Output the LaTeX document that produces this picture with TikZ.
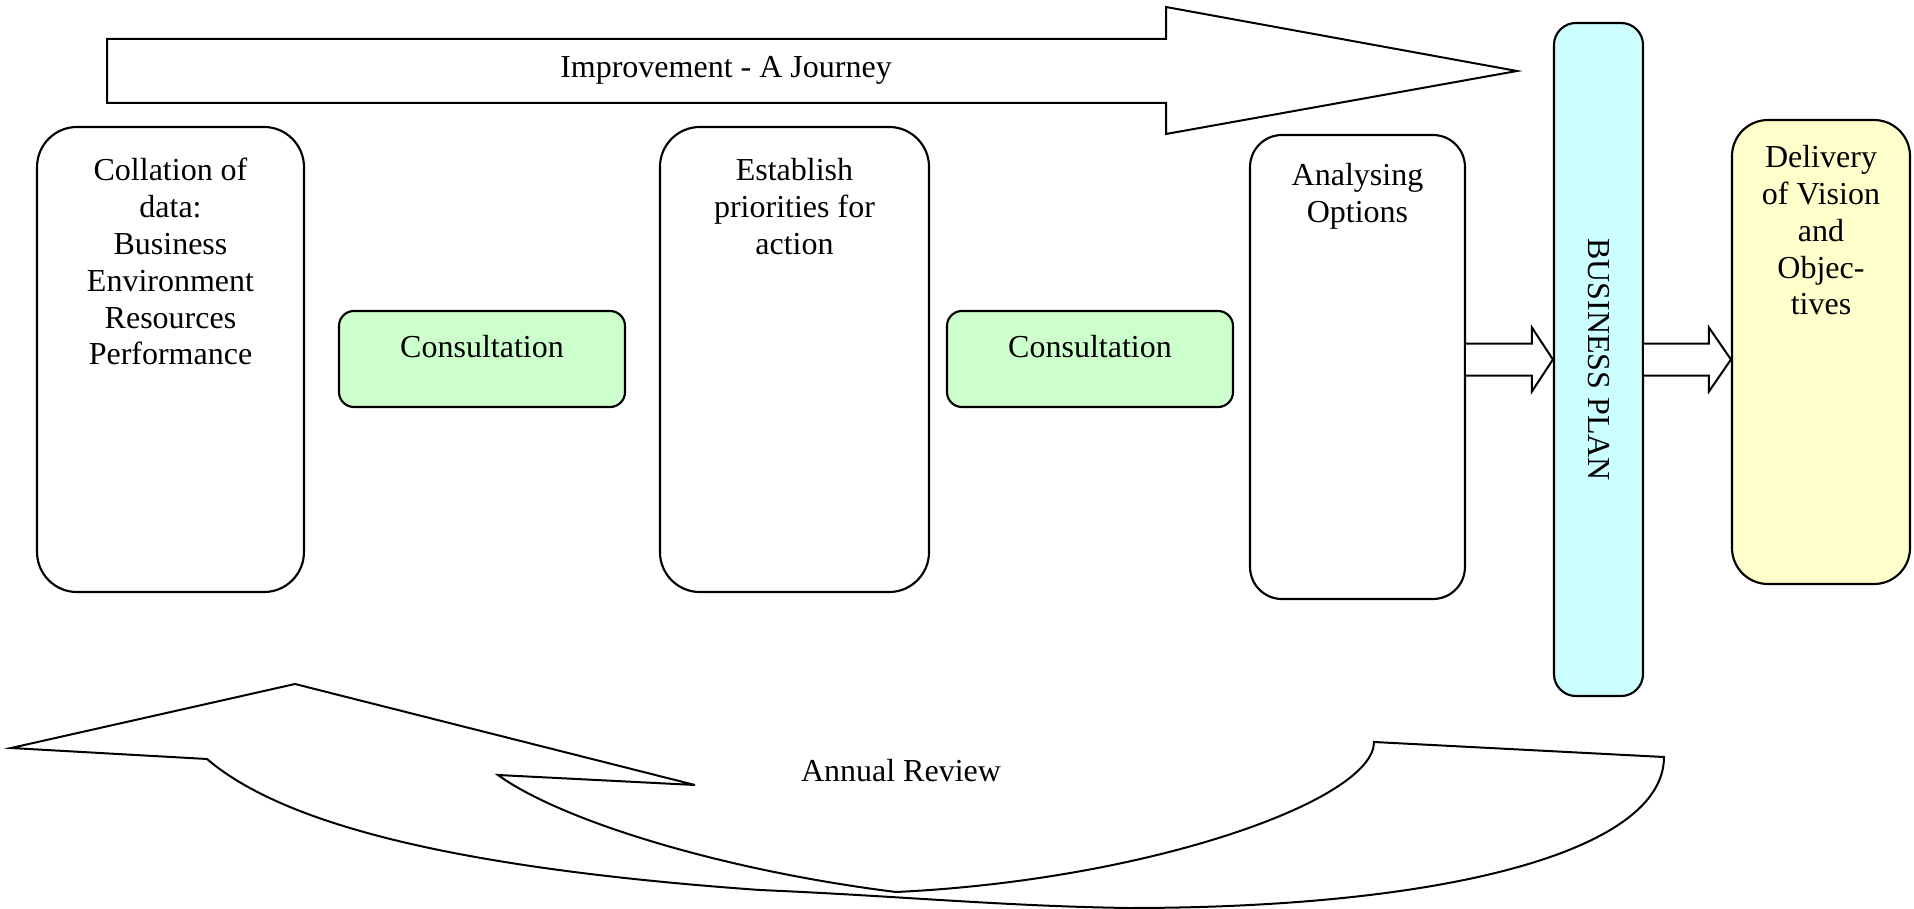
\documentclass[tikz,border=0pt]{standalone}
\usepackage{fontspec}
\setmainfont{Liberation Serif}
\usetikzlibrary{calc}

\definecolor{consultgreen}{HTML}{CCFFCC}
\definecolor{planblue}{HTML}{CCFFFF}
\definecolor{deliveryyellow}{HTML}{FFFFCC}

\begin{document}
\begin{tikzpicture}[
        x=0.375pt, y=-0.375pt,
        every node/.style={font=\fontsize{12}{13.8}\selectfont},
        stage/.style={draw, line width=0.8pt, rounded corners=15pt, minimum height=174.4pt, inner sep=0pt},
        consult/.style={draw, line width=0.8pt, rounded corners=5.6pt, fill=consultgreen, minimum width=107.25pt, minimum height=36pt, inner sep=0pt},
        txt/.style={align=center, anchor=north, inner sep=0pt},
        outline/.style={draw, line width=0.75pt, line join=miter},
        blockarr/.style={draw, line width=0.75pt, fill=white}
    ]

    \useasboundingbox (0,0) rectangle (1914,909);

    % ---- BIG ARROWS ----
    \draw[outline] (107,39) -- (1166,39) -- (1166,7) -- (1517,71) -- (1166,134) -- (1166,103) -- (107,103) -- cycle;
    \node[anchor=base] (journey) at (726,78) {Improvement - A Journey};

    \draw[outline] (11,748) -- (295,684) -- (695,785) -- (498,775)
        .. controls (560,820) and (720,870) .. (896,892)
        .. controls (1150,880) and (1374,800) .. (1374,742)
        -- (1664,757)
        .. controls (1664,850) and (1450,908) .. (1128,908)
        .. controls (1000,906) and (900,896) .. (760,890)
        .. controls (480,870) and (290,830) .. (207,759)
        -- cycle;
    \node[anchor=base] (review) at (901,781) {Annual Review};

    % ---- STAGES ----
    \node[stage, minimum width=100.1pt] (collate) at (170.5,359.5) {};
    \node[txt] (collatetxt) at ($(collate.north)+(0,32)$) {Collation of\\data:\\Business\\Environment\\Resources\\Performance};

    \node[consult] (consultA) at (482,359) {};
    \node[txt] (consultAtxt) at ($(consultA.north)+(0,25)$) {Consultation};

    \node[stage, minimum width=100.9pt] (priority) at (794.5,359.5) {};
    \node[txt] (prioritytxt) at ($(priority.north)+(0,32)$) {Establish\\priorities for\\action};

    \node[consult] (consultB) at (1090,359) {};
    \node[txt] (consultBtxt) at ($(consultB.north)+(0,25)$) {Consultation};

    \node[stage, rounded corners=12pt, minimum width=80.6pt, minimum height=174pt] (options) at (1357.5,367) {};
    \node[txt] (optionstxt) at ($(options.north)+(0,29)$) {Analysing\\Options};

    \node[draw, line width=0.8pt, rounded corners=8.25pt, fill=planblue, minimum width=33.4pt, minimum height=252.4pt, inner sep=0pt] (bplan) at (1598.5,359.5) {};
    \node[rotate=-90, inner sep=0pt] (plantxt) at (bplan) {BUSINESS PLAN};

    \node[stage, rounded corners=13.5pt, fill=deliveryyellow, minimum width=66.75pt, minimum height=174pt] (delivery) at (1821,352) {};
    \node[txt] (deliverytxt) at ($(delivery.north)+(0,26)$) {Delivery\\of Vision\\and\\Objec-\\tives};

    % ---- BLOCK ARROWS ----
    \draw[blockarr] ($(options.east |- bplan.west)+(0,-16)$) -- ($(bplan.west)+(-21,-16)$) -- ($(bplan.west)+(-21,-32)$)
        -- (bplan.west) -- ($(bplan.west)+(-21,32)$) -- ($(bplan.west)+(-21,16)$) -- ($(options.east |- bplan.west)+(0,16)$);
    \draw[blockarr] ($(bplan.east)+(0,-16)$) -- ($(delivery.west |- bplan.east)+(-22,-16)$) -- ($(delivery.west |- bplan.east)+(-22,-32)$)
        -- (delivery.west |- bplan.east) -- ($(delivery.west |- bplan.east)+(-22,32)$) -- ($(delivery.west |- bplan.east)+(-22,16)$) -- ($(bplan.east)+(0,16)$);

\end{tikzpicture}
\end{document}
